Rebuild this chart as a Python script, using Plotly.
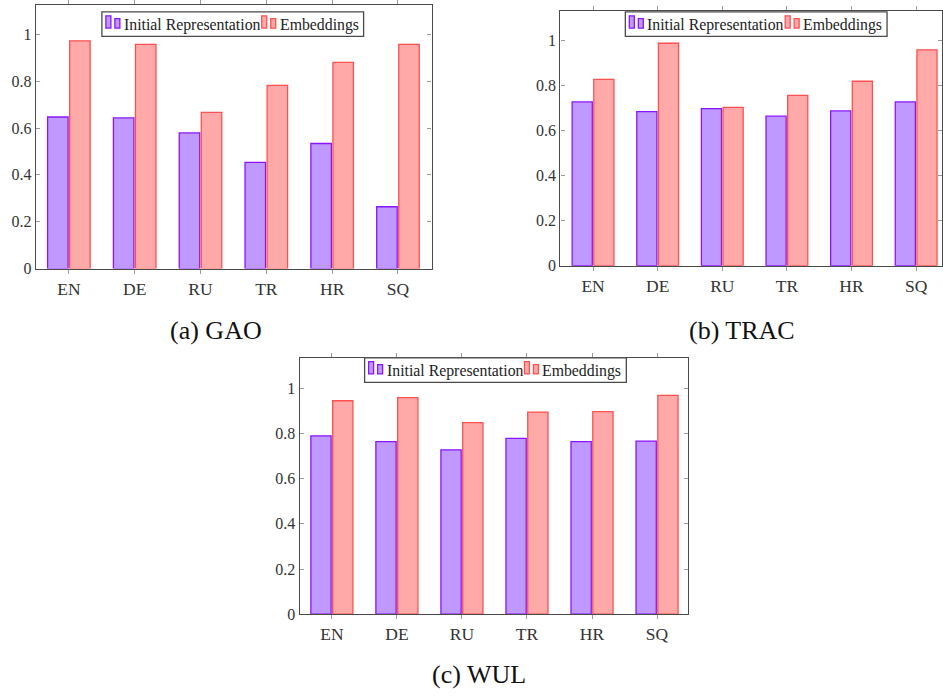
import plotly.graph_objects as go

W, H = 943, 700

languages = ["EN", "DE", "RU", "TR", "HR", "SQ"]
series_names = ["Initial Representation", "Embeddings"]

gao_initial = [0.647, 0.643, 0.579, 0.453, 0.534, 0.264]
gao_embed = [0.972, 0.957, 0.667, 0.782, 0.880, 0.957]

trac_initial = [0.728, 0.685, 0.698, 0.665, 0.688, 0.728]
trac_embed = [0.828, 0.989, 0.704, 0.757, 0.820, 0.960]

wul_initial = [0.789, 0.763, 0.727, 0.778, 0.763, 0.766]
wul_embed = [0.944, 0.958, 0.847, 0.894, 0.896, 0.968]

captions = ["(a) GAO", "(b) TRAC", "(c) WUL"]
ytick_vals = [0, 0.2, 0.4, 0.6, 0.8, 1]
ytick_text = ["0", "0.2", "0.4", "0.6", "0.8", "1"]

PURPLE_FILL = "#bf99ff"
PURPLE_EDGE = "#8a14ff"
RED_FILL = "#ffa9a9"
RED_EDGE = "#ff5050"
FRAME = "#4a4a4a"
SERIF = "Liberation Serif"


def px(x):
    return x / W


def py(y):
    return 1 - y / H


# panel geometry in pixels: frame left, right, top, bottom; x range; y max
panels = [
    dict(l=36, r=432, t=0, b=269, xr=[-0.5, 5.51], ymax=1.125,
         data=(gao_initial, gao_embed), legend=(102, 7), cap=(216, 332)),
    dict(l=561, r=943, t=6, b=266, xr=[-0.505, 5.40], ymax=1.133,
         data=(trac_initial, trac_embed), legend=(626, 7), cap=(743, 332)),
    dict(l=300, r=689, t=360, b=621.7, xr=[-0.495, 5.48], ymax=1.134,
         data=(wul_initial, wul_embed), legend=(365, 360), cap=(480, 683)),
]

fig = go.Figure()
shapes = []
annotations = []

for i, p in enumerate(panels):
    suffix = "" if i == 0 else str(i + 1)
    xa, ya = "x" + suffix, "y" + suffix
    init_vals, emb_vals = p["data"]
    fig.add_trace(go.Bar(
        x=languages, y=init_vals, name=series_names[0], xaxis=xa, yaxis=ya,
        marker=dict(color=PURPLE_FILL, line=dict(color=PURPLE_EDGE, width=1.3)),
        showlegend=False, offsetgroup="a"))
    fig.add_trace(go.Bar(
        x=languages, y=emb_vals, name=series_names[1], xaxis=xa, yaxis=ya,
        marker=dict(color=RED_FILL, line=dict(color=RED_EDGE, width=1.3)),
        showlegend=False, offsetgroup="b"))

    axis_common = dict(showline=True, linecolor=FRAME, linewidth=1.3, mirror="ticks",
                       showgrid=False, zeroline=False)
    fig.layout["xaxis" + suffix] = dict(
        domain=[px(p["l"]), px(p["r"])], range=p["xr"], anchor=ya,
        ticks="outside", ticklen=4, tickcolor="#999",
        tickfont=dict(family=SERIF, size=17.5, color="#333"), **axis_common)
    fig.layout["yaxis" + suffix] = dict(
        domain=[py(p["b"]), py(p["t"])], range=[0, p["ymax"]], anchor=xa,
        tickvals=ytick_vals, ticktext=ytick_text,
        ticks="inside", ticklen=4, tickcolor="#999",
        tickfont=dict(family=SERIF, size=16, color="#333"), **axis_common)

    # custom pgfplots-style legend box
    lx, ly = p["legend"]
    lw, lh = 262, 25
    shapes.append(dict(type="rect", xref="paper", yref="paper",
                       x0=px(lx), x1=px(lx + lw), y0=py(ly + lh), y1=py(ly),
                       line=dict(color=FRAME, width=1.3), fillcolor="white", layer="above"))
    for (sx, tx, fill, edge, name) in [(4, 20, PURPLE_FILL, PURPLE_EDGE, series_names[0]),
                                        (160, 176, RED_FILL, RED_EDGE, series_names[1])]:
        for (bx0, bx1, by0) in [(sx, sx + 5, 4), (sx + 9, sx + 14, 7)]:
            shapes.append(dict(type="rect", xref="paper", yref="paper",
                               x0=px(lx + bx0), x1=px(lx + bx1),
                               y0=py(ly + 16.5), y1=py(ly + by0),
                               line=dict(color=edge, width=1.3), fillcolor=fill, layer="above"))
        annotations.append(dict(text=name, xref="paper", yref="paper",
                                x=px(lx + tx), y=py(ly + lh / 2 + 0.5),
                                xanchor="left", yanchor="middle", showarrow=False,
                                font=dict(family=SERIF, size=15.8, color="#222")))

    cx, cy = p["cap"]
    annotations.append(dict(text=captions[i], xref="paper", yref="paper",
                            x=px(cx), y=py(cy), xanchor="center", yanchor="middle",
                            showarrow=False,
                            font=dict(family=SERIF, size=26, color="#111")))

fig.update_layout(
    width=W, height=H,
    margin=dict(l=0, r=0, t=0, b=0),
    paper_bgcolor="white", plot_bgcolor="white",
    barmode="group", bargap=0.33, bargroupgap=0.07,
    shapes=shapes, annotations=annotations,
    showlegend=False,
    font=dict(family=SERIF),
)

fig.write_html("out.html",
               config={"displayModeBar": False},
               post_script="document.body.style.margin='0px';document.body.style.overflow='hidden';")
